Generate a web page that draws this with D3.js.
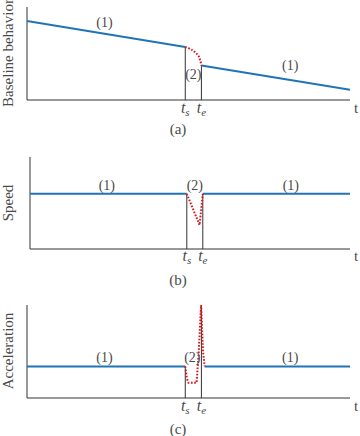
<!DOCTYPE html>
<html>
<head>
  <script src="https://d3js.org/d3.v7.min.js"></script>
  <style>
    body { margin: 0; background: #fff; }
  </style>
</head>
<body>
<div id="container"></div>
<script>
  // time markers (same for all panels)
  var tS = 4.9, tE = 5.4, tMax = 10;

  var yLabels = ['Baseline behavior', 'Speed', 'Acceleration'];
  var tags = ['(a)', '(b)', '(c)'];
  var regionLabels = ['(1)', '(2)', '(1)'];

  // (a) baseline behavior
  var baseBefore = [[0, 8.5], [4.9, 5.7]];
  var baseAfter = [[5.4, 3.7], [10, 1.1]];
  var baseEvent = [[4.9, 5.7], [5.11, 5.38], [5.29, 4.84], [5.36, 4.3], [5.4, 3.7]];

  // (b) speed
  var speedBefore = [[0, 6], [4.9, 6]];
  var speedAfter = [[5.4, 6], [10, 6]];
  var speedEvent = [[4.9, 6], [5.3, 2.6], [5.4, 6]];

  // (c) acceleration
  var accBefore = [[0, 3.4], [4.9, 3.4]];
  var accAfter = [[5.5, 3.4], [10, 3.4]];
  var accEvent = [[4.9, 3.4], [4.95, 2.1], [5.0, 1.65], [5.25, 1.65], [5.31, 4.5], [5.39, 10], [5.45, 5], [5.5, 3.4]];

  var blue = '#1f74b8', red = '#d8141c';
  var font = '"Liberation Serif", "Times New Roman", "DejaVu Serif", serif';

  var panels = [
    {left: 27, right: 350, top: 7, bottom: 100, before: baseBefore, after: baseAfter, event: baseEvent,
     curve: d3.curveCardinal, labY: 53, labPos: [[2.4, 27], [5.15, 79], [8.15, 70]], tickY: 113, tagY: 134},
    {left: 30, right: 350, top: 157, bottom: 249, before: speedBefore, after: speedAfter, event: speedEvent,
     curve: d3.curveLinear, labY: 203, labPos: [[2.4, 190], [5.15, 190], [8.15, 190]], tickY: 261, tagY: 285},
    {left: 27, right: 350, top: 305, bottom: 398, before: accBefore, after: accAfter, event: accEvent,
     curve: d3.curveLinear, labY: 351, labPos: [[2.4, 362], [5.12, 362], [8.15, 362]], tickY: 411, tagY: 434}
  ];

  var svg = d3.select('#container').append('svg')
    .attr('width', 360)
    .attr('height', 436)
    .attr('font-family', font);

  function label(g, x, y, s, size) {
    return g.append('text')
      .attr('x', x)
      .attr('y', y)
      .attr('text-anchor', 'middle')
      .attr('font-family', font)
      .attr('font-size', size)
      .attr('fill', '#4a4a4a')
      .text(s);
  }

  panels.forEach(function(p, i) {
    var x = d3.scaleLinear().domain([0, tMax]).range([p.left, p.right]);
    var y = d3.scaleLinear().domain([0, 10]).range([p.bottom, p.top]);
    var g = svg.append('g');

    // axes
    g.append('path')
      .attr('d', `M${p.left},${p.top} V${p.bottom} H${p.right}`)
      .attr('fill', 'none')
      .attr('stroke', '#333')
      .attr('stroke-width', 1);

    // ts / te markers
    var tsY = p.before[p.before.length - 1][1];
    var teY = p.after[0][1];
    g.append('line')
      .attr('x1', x(tS)).attr('x2', x(tS))
      .attr('y1', y(0)).attr('y2', y(tsY))
      .attr('stroke', '#333');
    g.append('line')
      .attr('x1', x(tE)).attr('x2', x(tE))
      .attr('y1', y(0)).attr('y2', y(i == 2 ? 10 : teY))
      .attr('stroke', '#333');

    var line = d3.line().x(d => x(d[0])).y(d => y(d[1]));

    [p.before, p.after].forEach(function(seg) {
      g.append('path')
        .attr('d', line(seg))
        .attr('fill', 'none')
        .attr('stroke', blue)
        .attr('stroke-width', 2);
    });

    g.append('path')
      .attr('d', line.curve(p.curve)(p.event))
      .attr('fill', 'none')
      .attr('stroke', red)
      .attr('stroke-width', 2)
      .attr('stroke-dasharray', '1.6,1.6');

    // region labels
    regionLabels.forEach(function(s, k) {
      label(g, x(p.labPos[k][0]), p.labPos[k][1], s, 14);
    });

    // t_s, t_e, t
    [[tS, 's'], [tE, 'e']].forEach(function(m) {
      var t = label(g, x(m[0]), p.tickY, null, 16)
        .attr('font-style', 'italic');
      t.append('tspan').text('t');
      t.append('tspan')
        .attr('dy', 3)
        .attr('font-size', 11)
        .text(m[1]);
    });
    label(g, 356, p.tickY, 't', 15);
    label(g, 178, p.tagY, tags[i], 15);

    label(g, 0, 0, yLabels[i], 15)
      .attr('transform', `translate(13,${p.labY}) rotate(-90)`);
  });
</script>
</body>
</html>
